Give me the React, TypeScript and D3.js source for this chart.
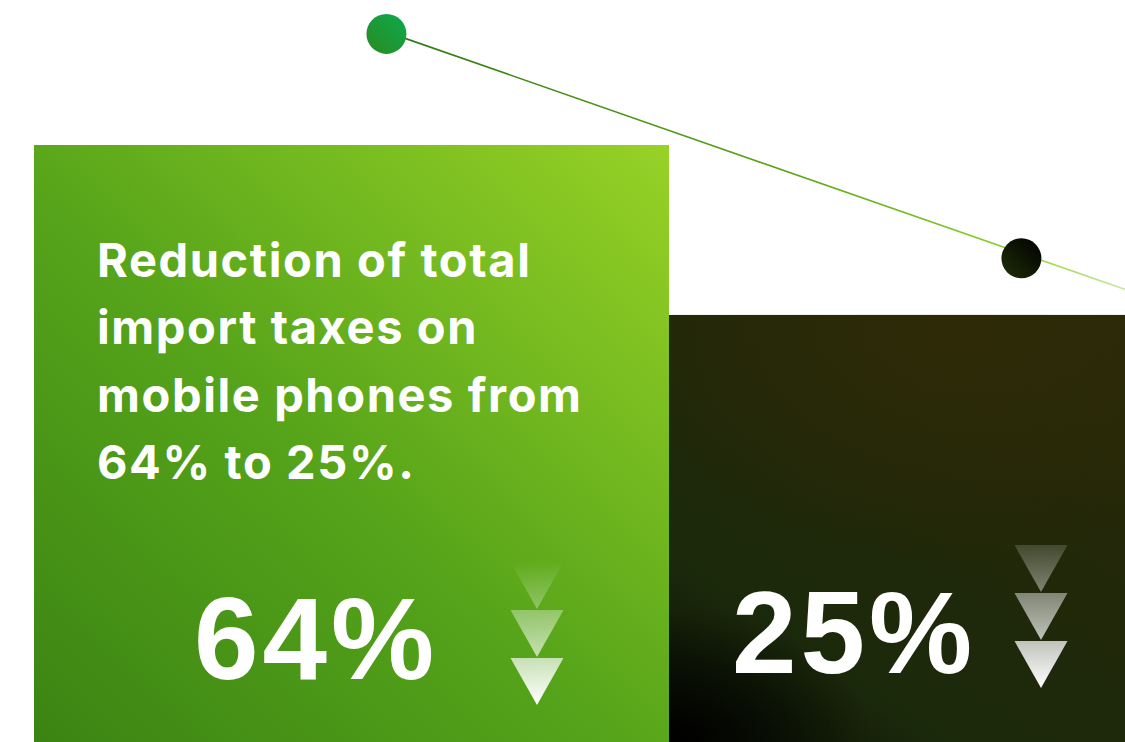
import React from "react";
import * as d3 from "d3";

// Import-tax levels before and after the reduction
const categories = ["Before", "After"];
const taxRates = [64, 25];
const rateLabels = ["64%", "25%"];
// Decorative trend markers drawn above the two columns
const markerValues = [89.5, 38];

const headline = [
  "Reduction of total",
  "import taxes on",
  "mobile phones from",
  "64% to 25%.",
];

const W = 1125;
const H = 742;

export default function App() {
  const x = d3
    .scaleBand<string>()
    .domain(categories)
    .range([34, 34 + 635 * 2])
    .paddingInner(0)
    .paddingOuter(0);
  const y = d3.scaleLinear().domain([-73, 64]).range([H, 145]);
  const bw = x.bandwidth();

  const markers = categories.map((c, i) => ({
    cx: (x(c) as number) + bw * 0.555,
    cy: y(markerValues[i]),
  }));

  // trend line: starts at the first marker and runs just over the second one to the edge
  const p0: [number, number] = [markers[0].cx, markers[0].cy - 2];
  const p1: [number, number] = [markers[1].cx, markers[1].cy - 5];
  const slope = (p1[1] - p0[1]) / (p1[0] - p0[0]);
  const pEnd: [number, number] = [W + 2, p0[1] + slope * (W + 2 - p0[0])];
  const linePath = d3.line()([p0, p1, pEnd]) as string;

  // layout of the value label and arrow stack inside each column
  const labelLayout = [
    { lx: 160, ly: 679, ax: 503, ay: 562 },
    { lx: 63, ly: 673, ax: 372, ay: 545 },
  ];
  const triW = 53;
  const triH = 47;
  const triStep = 48;

  const tri = (cx: number, top: number) =>
    `M${cx - triW / 2},${top}L${cx + triW / 2},${top}L${cx},${top + triH}Z`;

  return (
    <svg
      width={W}
      height={H}
      viewBox={`0 0 ${W} ${H}`}
      style={{ position: "absolute", left: 0, top: 0, display: "block", background: "#fff" }}
    >
      <defs>
        <linearGradient id="gBar0" x1="0" y1="1" x2="1" y2="0">
          <stop offset="0" stopColor="#3b8413" />
          <stop offset="0.45" stopColor="#55a31a" />
          <stop offset="1" stopColor="#97d226" />
        </linearGradient>
        <linearGradient id="gBar1" x1="0" y1="1" x2="1" y2="0">
          <stop offset="0" stopColor="#0b1204" />
          <stop offset="0.22" stopColor="#1b290b" />
          <stop offset="0.6" stopColor="#232809" />
          <stop offset="1" stopColor="#2c2a07" />
        </linearGradient>
        <radialGradient id="gBar1Glow" cx="0.45" cy="0.05" r="0.55">
          <stop offset="0" stopColor="#2f2a07" stopOpacity="0.9" />
          <stop offset="1" stopColor="#2f2a07" stopOpacity="0" />
        </radialGradient>
        <radialGradient id="gBar1Shade" cx="0" cy="1" r="0.32">
          <stop offset="0" stopColor="#000" stopOpacity="1" />
          <stop offset="1" stopColor="#000" stopOpacity="0" />
        </radialGradient>
        <linearGradient id="gLine" gradientUnits="userSpaceOnUse" x1={p0[0]} y1="0" x2={W} y2="0">
          <stop offset="0" stopColor="#2e7a10" />
          <stop offset="0.55" stopColor="#5aa61a" />
          <stop offset="0.85" stopColor="#8fd02a" />
          <stop offset="1" stopColor="#c8e9a0" />
        </linearGradient>
        <linearGradient id="gDot0" x1="0" y1="1" x2="1" y2="0">
          <stop offset="0" stopColor="#2a8a22" />
          <stop offset="1" stopColor="#0caa4c" />
        </linearGradient>
        <linearGradient id="gDot1" x1="0" y1="1" x2="1" y2="0">
          <stop offset="0" stopColor="#1f2e08" />
          <stop offset="1" stopColor="#000000" />
        </linearGradient>
        {labelLayout.map((l, i) => (
          <linearGradient
            key={i}
            id={`gArrow${i}`}
            gradientUnits="userSpaceOnUse"
            x1="0"
            y1={l.ay}
            x2="0"
            y2={l.ay + triStep * 2 + triH}
          >
            <stop offset="0" stopColor="#fff" stopOpacity={i === 0 ? 0 : 0.15} />
            <stop offset="1" stopColor="#fff" stopOpacity="1" />
          </linearGradient>
        ))}
      </defs>

      {/* trend line */}
      <path d={linePath} fill="none" stroke="url(#gLine)" strokeWidth={1.6} />

      {/* columns */}
      {categories.map((c, i) => {
        const bx = x(c) as number;
        const by = y(taxRates[i]);
        const bh = y(-73) - by;
        return (
          <g key={c}>
            <rect x={bx} y={by} width={bw} height={bh} fill={`url(#gBar${i})`} />
            {i === 1 && (
              <>
                <rect x={bx} y={by} width={bw} height={bh} fill="url(#gBar1Glow)" />
                <rect x={bx} y={by} width={bw} height={bh} fill="url(#gBar1Shade)" />
              </>
            )}
          </g>
        );
      })}

      {/* markers */}
      {markers.map((m, i) => (
        <circle key={i} cx={m.cx} cy={m.cy} r={20} fill={`url(#gDot${i})`} />
      ))}

      {/* headline */}
      <text
        fill="#fff"
        fontFamily="Inter, 'Open Sans', sans-serif"
        fontWeight={700}
        fontSize={47}
        letterSpacing={1.6}
      >
        {headline.map((line, i) => (
          <tspan key={i} x={(x(categories[0]) as number) + 63} y={277 + i * 67.4}>
            {line}
          </tspan>
        ))}
      </text>

      {/* value labels and arrows */}
      {categories.map((c, i) => {
        const bx = x(c) as number;
        const l = labelLayout[i];
        const cx = bx + l.ax;
        return (
          <g key={c}>
            <text
              x={bx + l.lx}
              y={l.ly}
              fill="#fff"
              fontFamily="'Liberation Sans', Arial, sans-serif"
              fontWeight={700}
              fontSize={116}
              letterSpacing={4}
            >
              {rateLabels[i]}
            </text>
            {[0, 1, 2].map((k) => (
              <path key={k} d={tri(cx, l.ay + k * triStep)} fill={`url(#gArrow${i})`} />
            ))}
          </g>
        );
      })}
    </svg>
  );
}
